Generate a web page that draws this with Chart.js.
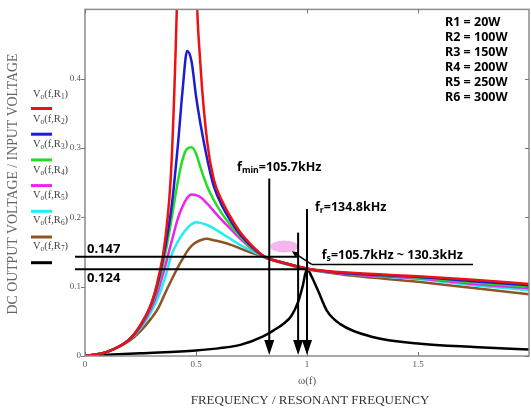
<!DOCTYPE html>
<html>
<head>
<meta charset="utf-8">
<script src="https://cdn.jsdelivr.net/npm/chart.js@4.4.1/dist/chart.umd.min.js"></script>
<style>
  html, body { margin: 0; padding: 0; background: #fff; }
  #wrap { width: 531px; height: 412px; }
</style>
</head>
<body>
<div id="wrap"><canvas id="gainChart"></canvas></div>
<script>
// normalised frequency (f / fr) for the six loaded curves
const freq = [0, 0.1, 0.2, 0.25, 0.3, 0.33, 0.36, 0.39, 0.42, 0.44, 0.46, 0.48, 0.5, 0.52,
              0.55, 0.58, 0.62, 0.66, 0.7, 0.75, 0.81, 0.9, 1.0, 1.2, 1.5, 1.75, 2.0];

// Vo(f,Rn)
const gainR1 = [0, 0.006, 0.024, 0.045, 0.077, 0.112, 0.165, 0.28, 0.58, 0.9, 1.05, 0.9, 0.55, 0.42,
                0.31, 0.255, 0.222, 0.198, 0.178, 0.16, 0.143, 0.134, 0.126, 0.12, 0.115, 0.11, 0.104];
const gainR2 = [0, 0.006, 0.024, 0.044, 0.076, 0.108, 0.155, 0.215, 0.31, 0.385, 0.44, 0.425, 0.375, 0.335,
                0.285, 0.245, 0.215, 0.193, 0.175, 0.158, 0.143, 0.134, 0.126, 0.119, 0.114, 0.108, 0.102];
const gainR3 = [0, 0.006, 0.024, 0.043, 0.074, 0.103, 0.145, 0.198, 0.255, 0.284, 0.299, 0.301, 0.292, 0.272,
                0.245, 0.225, 0.204, 0.187, 0.172, 0.156, 0.143, 0.134, 0.126, 0.119, 0.113, 0.106, 0.1];
const gainR4 = [0, 0.006, 0.024, 0.042, 0.07, 0.095, 0.128, 0.165, 0.2, 0.216, 0.228, 0.233, 0.232, 0.229,
                0.22, 0.209, 0.195, 0.182, 0.169, 0.155, 0.143, 0.134, 0.126, 0.118, 0.112, 0.104, 0.098];
const gainR5 = [0, 0.006, 0.024, 0.04, 0.065, 0.085, 0.112, 0.146, 0.166, 0.176, 0.184, 0.19, 0.193, 0.192,
                0.189, 0.184, 0.176, 0.168, 0.16, 0.152, 0.142, 0.134, 0.126, 0.118, 0.111, 0.102, 0.095];
const gainR6 = [0, 0.006, 0.022, 0.036, 0.055, 0.069, 0.09, 0.11, 0.129, 0.14, 0.151, 0.159, 0.164, 0.167,
                0.169, 0.167, 0.164, 0.16, 0.155, 0.149, 0.142, 0.133, 0.125, 0.116, 0.107, 0.098, 0.089];

// the seventh (black) curve has its own sample points
const freqR7 = [0, 0.25, 0.5, 0.6, 0.7, 0.8, 0.85, 0.9, 0.93, 0.96, 0.98, 1.0, 1.02, 1.05, 1.09,
                1.15, 1.3, 1.5, 1.75, 2.0];
const gainR7 = [0, 0.004, 0.008, 0.011, 0.016, 0.028, 0.037, 0.048, 0.058, 0.078, 0.1, 0.126, 0.115, 0.094, 0.065,
                0.046, 0.027, 0.018, 0.013, 0.0095];

const seriesNames = ['1', '2', '3', '4', '5', '6', '7'];
const loadLabels = ['R1 = 20W', 'R2 = 100W', 'R3 = 150W', 'R4 = 200W', 'R5 = 250W', 'R6 = 300W'];

const xTicks = [0, 0.5, 1, 1.5];
const yTicks = [0, 0.1, 0.2, 0.3, 0.4];

// annotation values
const refLevels = [0.143, 0.125];
const refLabels = ['0.147', '0.124'];
const refEnds = [0.96, 1.0];
const arrowFreqs = [0.83, 0.96, 1.0];
const arrowTops = [0.256, 0.178, 0.212];

const colors = ['#ee1111', '#1c1cd0', '#22dd22', '#ee22ee', '#22eeee', '#8f5424', '#000000'];

function pts(xs, ys) {
  return xs.map((v, i) => ({ x: v, y: ys[i] }));
}

const allGains = [gainR1, gainR2, gainR3, gainR4, gainR5, gainR6];
const datasets = allGains.map((g, i) => ({
  label: 'R' + seriesNames[i],
  data: pts(freq, g),
  borderColor: colors[i],
  borderWidth: 2.5,
  pointRadius: 0,
  fill: false,
  cubicInterpolationMode: 'monotone'
}));
datasets.push({
  label: 'R7',
  data: pts(freqR7, gainR7),
  borderColor: colors[6],
  borderWidth: 2.5,
  pointRadius: 0,
  fill: false,
  cubicInterpolationMode: 'monotone'
});

// text with subscripts: parts = [[text, isSub], ...]
function richText(ctx, parts, x, y, size, weight, family) {
  let cx = x;
  parts.forEach(p => {
    const sub = p[1];
    const s = sub ? size * 0.7 : size;
    ctx.font = weight + ' ' + s + 'px ' + family;
    ctx.fillText(p[0], cx, sub ? y + size * 0.28 : y);
    cx += ctx.measureText(p[0]).width;
  });
}

function arrowDown(ctx, px, top, tip) {
  ctx.beginPath();
  ctx.moveTo(px, top);
  ctx.lineTo(px, tip - 10);
  ctx.stroke();
  ctx.beginPath();
  ctx.moveTo(px - 5, tip - 15);
  ctx.lineTo(px + 5, tip - 15);
  ctx.lineTo(px, tip);
  ctx.closePath();
  ctx.fill();
}

const decor = {
  id: 'decor',
  afterDatasetsDraw(chart) {
    const { ctx, chartArea: a, scales: { x, y } } = chart;
    ctx.save();

    // frame and ticks
    ctx.strokeStyle = '#8c8c8c';
    ctx.lineWidth = 1.5;
    ctx.strokeRect(a.left, a.top, a.right - a.left, a.bottom - a.top);
    ctx.lineWidth = 1;
    ctx.strokeStyle = '#777';
    yTicks.forEach(t => {
      const py = Math.round(y.getPixelForValue(t)) + 0.5;
      ctx.beginPath(); ctx.moveTo(a.left - 4, py); ctx.lineTo(a.left, py); ctx.stroke();
      ctx.beginPath(); ctx.moveTo(a.right, py); ctx.lineTo(a.right - 4, py); ctx.stroke();
    });
    xTicks.forEach(t => {
      const px = Math.round(x.getPixelForValue(t)) + 0.5;
      ctx.beginPath(); ctx.moveTo(px, a.bottom); ctx.lineTo(px, a.bottom - 4); ctx.stroke();
      ctx.beginPath(); ctx.moveTo(px, a.top); ctx.lineTo(px, a.top + 4); ctx.stroke();
    });

    // pink marker
    ctx.fillStyle = '#f4b6ef';
    ctx.beginPath();
    ctx.ellipse(x.getPixelForValue(0.898), y.getPixelForValue(0.158), 14, 6, 0, 0, Math.PI * 2);
    ctx.fill();

    // reference levels
    ctx.strokeStyle = '#000';
    ctx.fillStyle = '#000';
    ctx.lineWidth = 2;
    refLevels.forEach((lv, i) => {
      const py = y.getPixelForValue(lv);
      ctx.beginPath();
      ctx.moveTo(75, py);
      ctx.lineTo(x.getPixelForValue(refEnds[i]), py);
      ctx.stroke();
    });
    ctx.textBaseline = 'middle';
    ctx.textAlign = 'left';
    ctx.font = 'bold 13px "Noto Sans"';
    ctx.fillText(refLabels[0], 87, y.getPixelForValue(refLevels[0]) - 8);
    ctx.fillText(refLabels[1], 87, y.getPixelForValue(refLevels[1]) + 9);

    // arrows
    arrowFreqs.forEach((f, i) => {
      arrowDown(ctx, x.getPixelForValue(f), y.getPixelForValue(arrowTops[i]), a.bottom - 1);
    });

    // fs underline and leader arrow
    const ux0 = x.getPixelForValue(1.021), ux1 = x.getPixelForValue(1.748), uy = y.getPixelForValue(0.132);
    ctx.lineWidth = 1.5;
    ctx.beginPath(); ctx.moveTo(ux0, uy); ctx.lineTo(ux1, uy); ctx.stroke();
    const lx = x.getPixelForValue(0.932), ly = y.getPixelForValue(0.151);
    ctx.beginPath(); ctx.moveTo(ux0, uy); ctx.lineTo(lx + 3, ly + 2); ctx.stroke();
    const ang = Math.atan2(ly - uy, lx - ux0);
    ctx.beginPath();
    ctx.moveTo(lx, ly);
    ctx.lineTo(lx - 7 * Math.cos(ang - 0.45), ly - 7 * Math.sin(ang - 0.45));
    ctx.lineTo(lx - 7 * Math.cos(ang + 0.45), ly - 7 * Math.sin(ang + 0.45));
    ctx.closePath();
    ctx.fill();

    // frequency labels
    const fam = '"Noto Sans"';
    richText(ctx, [['f', false], ['min', true], ['=105.7kHz', false]],
      x.getPixelForValue(0.685), y.getPixelForValue(0.272), 12.5, 'bold', fam);
    richText(ctx, [['f', false], ['r', true], ['=134.8kHz', false]],
      x.getPixelForValue(1.036), y.getPixelForValue(0.215), 12.5, 'bold', fam);
    richText(ctx, [['f', false], ['s', true], ['=105.7kHz ~ 130.3kHz', false]],
      x.getPixelForValue(1.066), y.getPixelForValue(0.145), 12.5, 'bold', fam);

    // load values box
    ctx.font = 'bold 12.5px "Noto Sans"';
    loadLabels.forEach((t, i) => ctx.fillText(t, 445, 22 + i * 15));

    // legend
    ctx.fillStyle = '#444';
    seriesNames.forEach((n, i) => {
      richText(ctx, [['V', false], ['o', true], ['(f,R', false], [n, true], [')', false]],
        33, 94 + i * 25.3, 10.5, 'normal', '"Liberation Serif"');
      ctx.strokeStyle = colors[i];
      ctx.lineWidth = 3;
      ctx.beginPath();
      ctx.moveTo(31, 108.5 + i * 25.7);
      ctx.lineTo(52, 108.5 + i * 25.7);
      ctx.stroke();
    });

    // axis titles
    ctx.fillStyle = '#555';
    ctx.textAlign = 'center';
    ctx.font = '11px "Liberation Serif"';
    ctx.fillText('\u03c9(f)', x.getPixelForValue(1), 381);
    ctx.fillStyle = '#333';
    ctx.font = '13px "Liberation Serif"';
    ctx.fillText('FREQUENCY / RESONANT FREQUENCY', 310, 401);
    ctx.save();
    ctx.translate(13, 184);
    ctx.rotate(-Math.PI / 2);
    ctx.fillStyle = '#666';
    ctx.font = '13.8px "Liberation Serif"';
    ctx.fillText('DC OUTPUT VOLTAGE / INPUT VOLTAGE', 0, 0);
    ctx.restore();

    ctx.restore();
  }
};

new Chart(document.getElementById('gainChart'), {
  type: 'line',
  data: { datasets: datasets },
  plugins: [decor],
  options: {
    responsive: true,
    maintainAspectRatio: false,
    animation: false,
    events: [],
    layout: { padding: { top: 5, right: 2, left: 0, bottom: 0 } },
    plugins: { legend: { display: false }, tooltip: { enabled: false } },
    scales: {
      x: {
        type: 'linear',
        min: 0,
        max: 2,
        afterBuildTicks: s => { s.ticks = xTicks.map(v => ({ value: v })); },
        afterFit: s => { s.height = 56; },
        grid: { display: false, drawTicks: false },
        border: { display: false },
        ticks: {
          padding: 3,
          maxRotation: 0,
          color: '#555',
          font: { family: 'Liberation Serif', size: 9 },
          callback: v => String(v)
        }
      },
      y: {
        type: 'linear',
        min: 0,
        max: 0.5,
        afterBuildTicks: s => { s.ticks = yTicks.map(v => ({ value: v })); },
        afterFit: s => { s.width = 85; },
        grid: { display: false, drawTicks: false },
        border: { display: false },
        ticks: {
          padding: 4,
          color: '#555',
          font: { family: 'Liberation Serif', size: 9 },
          callback: v => String(v)
        }
      }
    }
  }
});
</script>
</body>
</html>
